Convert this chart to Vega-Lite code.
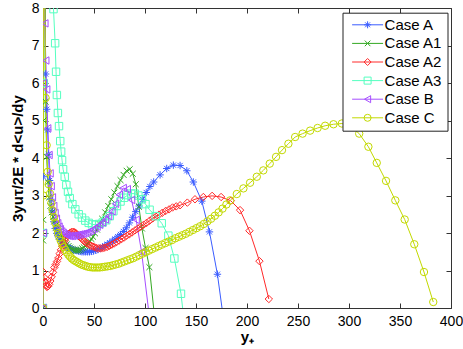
{
"$schema": "https://vega.github.io/schema/vega-lite/v6.json",
"width": 408, "height": 300,
"autosize": {"type": "none"},
"padding": {"left": 43, "top": 8, "right": 12, "bottom": 41},
"background": "white",
"config": {"font": "Liberation Sans", "view": {"stroke": null},
  "axis": {"grid": false, "domainColor": "#333", "tickColor": "#333", "tickSize": -5, "labelFont": "Liberation Sans", "labelFontSize": 14, "labelColor": "black", "titleFont": "Liberation Sans", "titleFontSize": 15, "titleFontWeight": "bold", "titleColor": "black"}},
"datasets": {"d": [
{"c":"Case A","x":0,"y":0},{"c":"Case A","x":0.3,"y":3.5},{"c":"Case A","x":0.7,"y":9},{"c":"Case A","x":1.5,"y":12},{"c":"Case A","x":2.6,"y":6.24},{"c":"Case A","x":3.6,"y":5.3},{"c":"Case A","x":4.6,"y":4.75},{"c":"Case A","x":5.4,"y":4.1},{"c":"Case A","x":6.5,"y":3.4},{"c":"Case A","x":7.8,"y":2.9},{"c":"Case A","x":9.2,"y":2.55},{"c":"Case A","x":10.6,"y":2.3},{"c":"Case A","x":12,"y":2.12},{"c":"Case A","x":13.5,"y":1.99},{"c":"Case A","x":15,"y":1.9},{"c":"Case A","x":16.5,"y":1.83},{"c":"Case A","x":18,"y":1.77},{"c":"Case A","x":19.5,"y":1.72},{"c":"Case A","x":21,"y":1.68},{"c":"Case A","x":22.5,"y":1.65},{"c":"Case A","x":24,"y":1.62},{"c":"Case A","x":25.5,"y":1.6},{"c":"Case A","x":27,"y":1.58},{"c":"Case A","x":28.5,"y":1.56},{"c":"Case A","x":30,"y":1.55},{"c":"Case A","x":31.6,"y":1.54},{"c":"Case A","x":33.2,"y":1.53},{"c":"Case A","x":34.8,"y":1.52},{"c":"Case A","x":36.5,"y":1.51},{"c":"Case A","x":38.2,"y":1.5},{"c":"Case A","x":40,"y":1.5},{"c":"Case A","x":41.8,"y":1.5},{"c":"Case A","x":43.7,"y":1.5},{"c":"Case A","x":45.6,"y":1.5},{"c":"Case A","x":47.6,"y":1.51},{"c":"Case A","x":49.6,"y":1.52},{"c":"Case A","x":51.7,"y":1.54},{"c":"Case A","x":53.8,"y":1.56},{"c":"Case A","x":56,"y":1.59},{"c":"Case A","x":58.3,"y":1.62},{"c":"Case A","x":60.6,"y":1.66},{"c":"Case A","x":63,"y":1.7},{"c":"Case A","x":65.5,"y":1.74},{"c":"Case A","x":68,"y":1.79},{"c":"Case A","x":70.6,"y":1.84},{"c":"Case A","x":73.3,"y":1.9},{"c":"Case A","x":76,"y":1.96},{"c":"Case A","x":78.8,"y":2.04},{"c":"Case A","x":81.7,"y":2.14},{"c":"Case A","x":84.7,"y":2.27},{"c":"Case A","x":87.8,"y":2.42},{"c":"Case A","x":91,"y":2.57},{"c":"Case A","x":94.3,"y":2.72},{"c":"Case A","x":97.7,"y":2.9},{"c":"Case A","x":101.2,"y":3.08},{"c":"Case A","x":104.8,"y":3.24},{"c":"Case A","x":108.5,"y":3.36},{"c":"Case A","x":114.8,"y":3.55},{"c":"Case A","x":121.3,"y":3.72},{"c":"Case A","x":127.8,"y":3.81},{"c":"Case A","x":134.4,"y":3.8},{"c":"Case A","x":141,"y":3.66},{"c":"Case A","x":147.4,"y":3.36},{"c":"Case A","x":155.7,"y":2.85},{"c":"Case A","x":163.2,"y":2.03},{"c":"Case A","x":171,"y":0.9},{"c":"Case A","x":178,"y":-0.5},

{"c":"Case A1","x":0,"y":0},{"c":"Case A1","x":0.1,"y":1.8},{"c":"Case A1","x":0.2,"y":2.35},{"c":"Case A1","x":0.5,"y":5},{"c":"Case A1","x":1,"y":9},{"c":"Case A1","x":2,"y":10},{"c":"Case A1","x":2.6,"y":5.5},{"c":"Case A1","x":3.6,"y":4.03},{"c":"Case A1","x":4.8,"y":3.35},{"c":"Case A1","x":6,"y":2.95},{"c":"Case A1","x":7.2,"y":2.72},{"c":"Case A1","x":8.5,"y":2.55},{"c":"Case A1","x":10,"y":2.43},{"c":"Case A1","x":11.5,"y":2.32},{"c":"Case A1","x":13,"y":2.22},{"c":"Case A1","x":14.5,"y":2.13},{"c":"Case A1","x":16,"y":2.05},{"c":"Case A1","x":17.5,"y":1.97},{"c":"Case A1","x":19,"y":1.89},{"c":"Case A1","x":20.5,"y":1.82},{"c":"Case A1","x":22,"y":1.76},{"c":"Case A1","x":23.5,"y":1.7},{"c":"Case A1","x":25,"y":1.65},{"c":"Case A1","x":26.5,"y":1.61},{"c":"Case A1","x":28,"y":1.58},{"c":"Case A1","x":29.5,"y":1.56},{"c":"Case A1","x":31,"y":1.54},{"c":"Case A1","x":32.5,"y":1.53},{"c":"Case A1","x":34,"y":1.53},{"c":"Case A1","x":35.5,"y":1.54},{"c":"Case A1","x":37,"y":1.56},{"c":"Case A1","x":38.5,"y":1.59},{"c":"Case A1","x":40,"y":1.62},{"c":"Case A1","x":41.5,"y":1.65},{"c":"Case A1","x":43,"y":1.69},{"c":"Case A1","x":44.5,"y":1.73},{"c":"Case A1","x":46,"y":1.78},{"c":"Case A1","x":47.5,"y":1.84},{"c":"Case A1","x":49,"y":1.9},{"c":"Case A1","x":51,"y":1.99},{"c":"Case A1","x":53,"y":2.09},{"c":"Case A1","x":55.5,"y":2.24},{"c":"Case A1","x":58,"y":2.38},{"c":"Case A1","x":61,"y":2.55},{"c":"Case A1","x":64,"y":2.72},{"c":"Case A1","x":67,"y":2.9},{"c":"Case A1","x":70,"y":3.08},{"c":"Case A1","x":73,"y":3.25},{"c":"Case A1","x":76,"y":3.41},{"c":"Case A1","x":79,"y":3.55},{"c":"Case A1","x":82,"y":3.66},{"c":"Case A1","x":85,"y":3.7},{"c":"Case A1","x":88,"y":3.58},{"c":"Case A1","x":91,"y":3.3},{"c":"Case A1","x":94,"y":2.7},{"c":"Case A1","x":97,"y":2.12},{"c":"Case A1","x":100.5,"y":1.6},{"c":"Case A1","x":104.3,"y":1.09},{"c":"Case A1","x":110,"y":-0.4},

{"c":"Case A2","x":0,"y":0},{"c":"Case A2","x":0.3,"y":0.96},{"c":"Case A2","x":1,"y":0.82},{"c":"Case A2","x":2,"y":0.7},{"c":"Case A2","x":3,"y":0.6},{"c":"Case A2","x":4,"y":0.56},{"c":"Case A2","x":5,"y":0.58},{"c":"Case A2","x":6,"y":0.63},{"c":"Case A2","x":7.2,"y":0.72},{"c":"Case A2","x":8.5,"y":0.83},{"c":"Case A2","x":9.8,"y":0.95},{"c":"Case A2","x":11.1,"y":1.08},{"c":"Case A2","x":12.4,"y":1.16},{"c":"Case A2","x":13.7,"y":1.24},{"c":"Case A2","x":15,"y":1.33},{"c":"Case A2","x":16.3,"y":1.45},{"c":"Case A2","x":17.6,"y":1.55},{"c":"Case A2","x":18.9,"y":1.64},{"c":"Case A2","x":20.2,"y":1.72},{"c":"Case A2","x":21.5,"y":1.8},{"c":"Case A2","x":22.8,"y":1.88},{"c":"Case A2","x":24.1,"y":1.94},{"c":"Case A2","x":25.4,"y":1.98},{"c":"Case A2","x":26.8,"y":2.01},{"c":"Case A2","x":28.2,"y":2.03},{"c":"Case A2","x":29.6,"y":2.03},{"c":"Case A2","x":31,"y":2.02},{"c":"Case A2","x":32.5,"y":1.99},{"c":"Case A2","x":34,"y":1.95},{"c":"Case A2","x":35.5,"y":1.91},{"c":"Case A2","x":37,"y":1.87},{"c":"Case A2","x":38.6,"y":1.83},{"c":"Case A2","x":40.2,"y":1.79},{"c":"Case A2","x":41.8,"y":1.75},{"c":"Case A2","x":43.5,"y":1.72},{"c":"Case A2","x":45.2,"y":1.69},{"c":"Case A2","x":47,"y":1.66},{"c":"Case A2","x":48.8,"y":1.64},{"c":"Case A2","x":50.7,"y":1.62},{"c":"Case A2","x":52.6,"y":1.6},{"c":"Case A2","x":54.6,"y":1.59},{"c":"Case A2","x":56.6,"y":1.59},{"c":"Case A2","x":58.7,"y":1.6},{"c":"Case A2","x":60.8,"y":1.61},{"c":"Case A2","x":63,"y":1.63},{"c":"Case A2","x":65.2,"y":1.66},{"c":"Case A2","x":67.5,"y":1.69},{"c":"Case A2","x":69.8,"y":1.72},{"c":"Case A2","x":72.2,"y":1.76},{"c":"Case A2","x":74.6,"y":1.8},{"c":"Case A2","x":77.1,"y":1.84},{"c":"Case A2","x":79.6,"y":1.88},{"c":"Case A2","x":82.2,"y":1.93},{"c":"Case A2","x":84.8,"y":1.97},{"c":"Case A2","x":87.5,"y":2.02},{"c":"Case A2","x":90.2,"y":2.07},{"c":"Case A2","x":93,"y":2.12},{"c":"Case A2","x":95.8,"y":2.17},{"c":"Case A2","x":98.7,"y":2.22},{"c":"Case A2","x":101.6,"y":2.27},{"c":"Case A2","x":104.6,"y":2.33},{"c":"Case A2","x":107.6,"y":2.39},{"c":"Case A2","x":110.7,"y":2.44},{"c":"Case A2","x":113.8,"y":2.49},{"c":"Case A2","x":117,"y":2.54},{"c":"Case A2","x":120.3,"y":2.59},{"c":"Case A2","x":123.6,"y":2.63},{"c":"Case A2","x":127,"y":2.68},{"c":"Case A2","x":130.6,"y":2.71},{"c":"Case A2","x":134.4,"y":2.74},{"c":"Case A2","x":141.5,"y":2.81},{"c":"Case A2","x":149,"y":2.9},{"c":"Case A2","x":157.2,"y":2.96},{"c":"Case A2","x":165.8,"y":2.99},{"c":"Case A2","x":174.6,"y":2.96},{"c":"Case A2","x":184.1,"y":2.86},{"c":"Case A2","x":193.2,"y":2.61},{"c":"Case A2","x":202.4,"y":2.06},{"c":"Case A2","x":212.2,"y":1.25},{"c":"Case A2","x":221.4,"y":0.24},

{"c":"Case A3","x":0,"y":0},{"c":"Case A3","x":0.3,"y":2},{"c":"Case A3","x":0.8,"y":6},{"c":"Case A3","x":1.5,"y":10},{"c":"Case A3","x":4,"y":14},{"c":"Case A3","x":8,"y":10.5},{"c":"Case A3","x":10.3,"y":7.97},{"c":"Case A3","x":11.9,"y":7.06},{"c":"Case A3","x":12.8,"y":6.3},{"c":"Case A3","x":13.6,"y":5.68},{"c":"Case A3","x":14.6,"y":5.2},{"c":"Case A3","x":15.7,"y":4.85},{"c":"Case A3","x":16.9,"y":4.45},{"c":"Case A3","x":17.8,"y":4.17},{"c":"Case A3","x":18.7,"y":3.94},{"c":"Case A3","x":19.7,"y":3.7},{"c":"Case A3","x":21.3,"y":3.5},{"c":"Case A3","x":22.9,"y":3.28},{"c":"Case A3","x":24.5,"y":3.1},{"c":"Case A3","x":26.2,"y":2.93},{"c":"Case A3","x":28.8,"y":2.77},{"c":"Case A3","x":31.7,"y":2.63},{"c":"Case A3","x":35,"y":2.5},{"c":"Case A3","x":38.2,"y":2.41},{"c":"Case A3","x":41.5,"y":2.33},{"c":"Case A3","x":44.8,"y":2.27},{"c":"Case A3","x":48,"y":2.23},{"c":"Case A3","x":51.5,"y":2.22},{"c":"Case A3","x":55,"y":2.24},{"c":"Case A3","x":58.5,"y":2.28},{"c":"Case A3","x":62,"y":2.34},{"c":"Case A3","x":65.5,"y":2.45},{"c":"Case A3","x":69,"y":2.58},{"c":"Case A3","x":72.5,"y":2.72},{"c":"Case A3","x":76,"y":2.84},{"c":"Case A3","x":79.5,"y":2.94},{"c":"Case A3","x":83,"y":3.01},{"c":"Case A3","x":86.5,"y":3.05},{"c":"Case A3","x":90,"y":3.05},{"c":"Case A3","x":93.5,"y":3.0},{"c":"Case A3","x":97,"y":2.9},{"c":"Case A3","x":100.5,"y":2.77},{"c":"Case A3","x":104.5,"y":2.62},{"c":"Case A3","x":110.5,"y":2.45},{"c":"Case A3","x":116.4,"y":2.26},{"c":"Case A3","x":122.9,"y":1.93},{"c":"Case A3","x":128.8,"y":1.32},{"c":"Case A3","x":135.3,"y":0.38},{"c":"Case A3","x":141,"y":-1.0},

{"c":"Case B","x":0,"y":0},{"c":"Case B","x":0.2,"y":2},{"c":"Case B","x":0.5,"y":6},{"c":"Case B","x":1,"y":10},{"c":"Case B","x":1.8,"y":7.59},{"c":"Case B","x":2.7,"y":6.6},{"c":"Case B","x":3.6,"y":5.83},{"c":"Case B","x":4.6,"y":4.79},{"c":"Case B","x":5.9,"y":4.08},{"c":"Case B","x":6.9,"y":3.59},{"c":"Case B","x":8,"y":3.25},{"c":"Case B","x":9.2,"y":2.95},{"c":"Case B","x":10.5,"y":2.72},{"c":"Case B","x":11.8,"y":2.53},{"c":"Case B","x":13.1,"y":2.38},{"c":"Case B","x":14.4,"y":2.26},{"c":"Case B","x":15.7,"y":2.17},{"c":"Case B","x":17,"y":2.1},{"c":"Case B","x":18.4,"y":2.04},{"c":"Case B","x":19.8,"y":2.0},{"c":"Case B","x":21.2,"y":1.97},{"c":"Case B","x":22.7,"y":1.95},{"c":"Case B","x":24.2,"y":1.93},{"c":"Case B","x":25.8,"y":1.92},{"c":"Case B","x":27.4,"y":1.92},{"c":"Case B","x":29,"y":1.92},{"c":"Case B","x":30.7,"y":1.93},{"c":"Case B","x":32.4,"y":1.94},{"c":"Case B","x":34.2,"y":1.95},{"c":"Case B","x":36,"y":1.96},{"c":"Case B","x":37.9,"y":1.97},{"c":"Case B","x":39.8,"y":1.98},{"c":"Case B","x":41.8,"y":2.0},{"c":"Case B","x":43.9,"y":2.02},{"c":"Case B","x":46,"y":2.05},{"c":"Case B","x":48.3,"y":2.08},{"c":"Case B","x":50.6,"y":2.12},{"c":"Case B","x":53,"y":2.17},{"c":"Case B","x":55.6,"y":2.22},{"c":"Case B","x":58.3,"y":2.28},{"c":"Case B","x":61.2,"y":2.36},{"c":"Case B","x":64.3,"y":2.45},{"c":"Case B","x":67.6,"y":2.58},{"c":"Case B","x":71.1,"y":2.78},{"c":"Case B","x":74.8,"y":3.02},{"c":"Case B","x":78.6,"y":3.2},{"c":"Case B","x":82.6,"y":3.17},{"c":"Case B","x":86.8,"y":2.88},{"c":"Case B","x":91.3,"y":2.35},{"c":"Case B","x":96.6,"y":1.5},{"c":"Case B","x":106.6,"y":-0.75},

{"c":"Case C","x":0,"y":0},{"c":"Case C","x":0.3,"y":3},{"c":"Case C","x":0.7,"y":8.6},{"c":"Case C","x":1.3,"y":10},{"c":"Case C","x":2.6,"y":5.6},{"c":"Case C","x":3.6,"y":4.34},{"c":"Case C","x":4.6,"y":3.63},{"c":"Case C","x":5.6,"y":3.3},{"c":"Case C","x":6.9,"y":3.05},{"c":"Case C","x":8.2,"y":2.8},{"c":"Case C","x":9.5,"y":2.6},{"c":"Case C","x":10.8,"y":2.42},{"c":"Case C","x":12.1,"y":2.27},{"c":"Case C","x":13.4,"y":2.13},{"c":"Case C","x":14.7,"y":2.0},{"c":"Case C","x":16,"y":1.89},{"c":"Case C","x":17.4,"y":1.79},{"c":"Case C","x":18.8,"y":1.7},{"c":"Case C","x":20.3,"y":1.62},{"c":"Case C","x":21.8,"y":1.55},{"c":"Case C","x":23.3,"y":1.48},{"c":"Case C","x":24.9,"y":1.42},{"c":"Case C","x":26.5,"y":1.37},{"c":"Case C","x":28.2,"y":1.32},{"c":"Case C","x":30,"y":1.28},{"c":"Case C","x":31.8,"y":1.25},{"c":"Case C","x":33.7,"y":1.22},{"c":"Case C","x":35.6,"y":1.19},{"c":"Case C","x":37.6,"y":1.16},{"c":"Case C","x":39.7,"y":1.14},{"c":"Case C","x":41.8,"y":1.12},{"c":"Case C","x":44,"y":1.1},{"c":"Case C","x":46.2,"y":1.09},{"c":"Case C","x":48.5,"y":1.08},{"c":"Case C","x":50.8,"y":1.08},{"c":"Case C","x":53.2,"y":1.08},{"c":"Case C","x":55.6,"y":1.08},{"c":"Case C","x":58.1,"y":1.09},{"c":"Case C","x":60.6,"y":1.1},{"c":"Case C","x":63.2,"y":1.11},{"c":"Case C","x":65.8,"y":1.12},{"c":"Case C","x":68.5,"y":1.14},{"c":"Case C","x":71.2,"y":1.16},{"c":"Case C","x":74,"y":1.18},{"c":"Case C","x":76.8,"y":1.21},{"c":"Case C","x":79.7,"y":1.24},{"c":"Case C","x":82.6,"y":1.27},{"c":"Case C","x":85.5,"y":1.3},{"c":"Case C","x":88.5,"y":1.33},{"c":"Case C","x":91.5,"y":1.37},{"c":"Case C","x":94.5,"y":1.41},{"c":"Case C","x":97.6,"y":1.45},{"c":"Case C","x":100.7,"y":1.49},{"c":"Case C","x":103.8,"y":1.53},{"c":"Case C","x":106.9,"y":1.57},{"c":"Case C","x":110.1,"y":1.61},{"c":"Case C","x":113.3,"y":1.65},{"c":"Case C","x":116.5,"y":1.69},{"c":"Case C","x":119.8,"y":1.73},{"c":"Case C","x":123.1,"y":1.77},{"c":"Case C","x":126.4,"y":1.81},{"c":"Case C","x":129.8,"y":1.86},{"c":"Case C","x":133.2,"y":1.9},{"c":"Case C","x":136.6,"y":1.94},{"c":"Case C","x":140,"y":1.98},{"c":"Case C","x":143.5,"y":2.03},{"c":"Case C","x":147,"y":2.08},{"c":"Case C","x":150.5,"y":2.13},{"c":"Case C","x":154,"y":2.18},{"c":"Case C","x":157.6,"y":2.24},{"c":"Case C","x":161.2,"y":2.31},{"c":"Case C","x":164.8,"y":2.38},{"c":"Case C","x":168.5,"y":2.46},{"c":"Case C","x":172.2,"y":2.55},{"c":"Case C","x":176,"y":2.65},{"c":"Case C","x":179.8,"y":2.76},{"c":"Case C","x":183.5,"y":2.87},{"c":"Case C","x":190,"y":3.04},{"c":"Case C","x":196.5,"y":3.19},{"c":"Case C","x":203,"y":3.34},{"c":"Case C","x":209.6,"y":3.5},{"c":"Case C","x":216,"y":3.67},{"c":"Case C","x":222.3,"y":3.85},{"c":"Case C","x":228.5,"y":4.03},{"c":"Case C","x":234.3,"y":4.21},{"c":"Case C","x":240.6,"y":4.38},{"c":"Case C","x":247.2,"y":4.56},{"c":"Case C","x":254.5,"y":4.65},{"c":"Case C","x":261.9,"y":4.73},{"c":"Case C","x":269.2,"y":4.8},{"c":"Case C","x":276.6,"y":4.86},{"c":"Case C","x":284.8,"y":4.9},{"c":"Case C","x":293,"y":4.92},{"c":"Case C","x":301.5,"y":4.85},{"c":"Case C","x":310,"y":4.65},{"c":"Case C","x":319,"y":4.3},{"c":"Case C","x":327.2,"y":3.87},{"c":"Case C","x":336.3,"y":3.39},{"c":"Case C","x":345.4,"y":2.87},{"c":"Case C","x":354.6,"y":2.36},{"c":"Case C","x":364,"y":1.7},{"c":"Case C","x":373.5,"y":0.96},{"c":"Case C","x":382.6,"y":0.16}
]},
"data": {"name": "d"},
"layer": [
 {"mark": {"type": "line", "clip": true, "strokeWidth": 1},
  "encoding": {
   "x": {"field": "x", "type": "quantitative", "scale": {"domain": [0, 400], "nice": false, "zero": false},
     "axis": {"orient": "bottom", "values": [0,50,100,150,200,250,300,350,400], "title": "y₊", "labelPadding": 11, "titlePadding": 1, "labelFlush": false}},
   "y": {"field": "y", "type": "quantitative", "scale": {"domain": [0, 8], "nice": false, "zero": false},
     "axis": {"orient": "left", "values": [0,1,2,3,4,5,6,7,8], "title": "3yuτ/2E * d<u>/dy", "labelPadding": 9, "titlePadding": 6, "labelFlush": false}},
   "color": {"field": "c", "type": "nominal",
     "scale": {"domain": ["Case A","Case A1","Case A2","Case A3","Case B","Case C"], "range": ["#3a5cff","#33a822","#ff2a2a","#55ffc0","#a64dff","#c2d900"]},
     "legend": {"orient": "none", "legendX": 299.5, "legendY": 4.7, "title": null, "symbolType": "M-0.71,0L8.14,0", "symbolSize": 49, "symbolStrokeWidth": 1, "fillColor": "white", "strokeColor": "#222", "padding": 4.6, "labelFont": "Liberation Sans", "labelFontSize": 15, "labelColor": "black", "labelOffset": 22.5, "rowPadding": 2.6, "zindex": 1}}
  }},
 {"mark": {"type": "point", "clip": true, "filled": false, "strokeWidth": 1, "size": 55, "opacity": 1},
  "encoding": {
   "x": {"field": "x", "type": "quantitative", "scale": {"domain": [0, 400], "nice": false, "zero": false},
     "axis": {"orient": "top", "values": [0,50,100,150,200,250,300,350,400], "labels": false, "title": null}},
   "y": {"field": "y", "type": "quantitative", "scale": {"domain": [0, 8], "nice": false, "zero": false},
     "axis": {"orient": "right", "values": [0,1,2,3,4,5,6,7,8], "labels": false, "title": null}},
   "color": {"field": "c", "type": "nominal",
     "legend": {"orient": "none", "legendX": 312.5, "legendY": 4.7, "title": null, "padding": 4.6, "labelFont": "Liberation Sans", "labelFontSize": 15, "labelExpr": "''", "labelOffset": 22.5, "rowPadding": 2.6, "symbolSize": 49, "symbolStrokeWidth": 1, "zindex": 2}},
   "shape": {"field": "c", "type": "nominal",
     "scale": {"domain": ["Case A","Case A1","Case A2","Case A3","Case B","Case C"], "range": ["M-1,0L1,0M0,-1L0,1M-0.7,-0.7L0.7,0.7M-0.7,0.7L0.7,-0.7","M-0.8,-0.8L0.8,0.8M-0.8,0.8L0.8,-0.8","diamond","square","triangle-left","circle"]},
     "legend": {"orient": "none", "legendX": 312.5, "legendY": 4.7, "title": null, "padding": 4.6, "labelFont": "Liberation Sans", "labelFontSize": 15, "labelExpr": "''", "labelOffset": 22.5, "rowPadding": 2.6, "symbolSize": 49, "symbolStrokeWidth": 1, "zindex": 2}}
  }}
],
"resolve": {"axis": {"x": "independent", "y": "independent"}, "legend": {"color": "independent", "shape": "independent"}}
}
